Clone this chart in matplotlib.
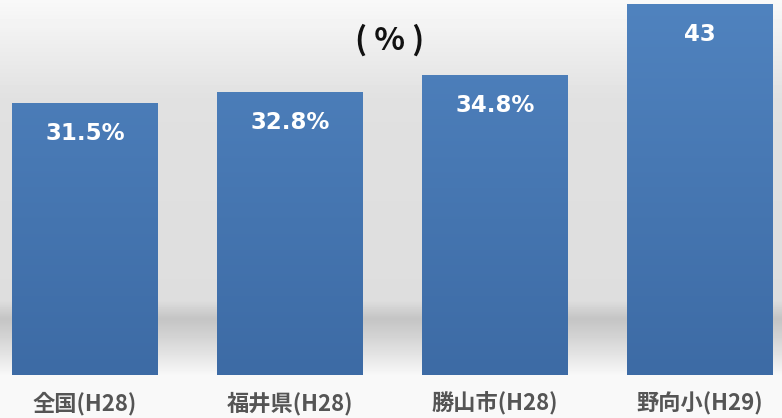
import numpy as np
import matplotlib
matplotlib.use("Agg")
import matplotlib.pyplot as plt
from matplotlib.colors import LinearSegmentedColormap

plt.rcParams['font.family'] = ['Noto Sans CJK JP', 'DejaVu Sans']

categories = ["全国(H28)", "福井県(H28)", "勝山市(H28)", "野向小(H29)"]
values = [31.5, 32.8, 34.8, 43]
value_labels = ["31.5%", "32.8%", "34.8%", "43"]
unit_label = "( % )"

W, H = 782, 418
fig = plt.figure(figsize=(W / 100, H / 100), dpi=100)

# background gradient (wall + floor shadow)
bg = fig.add_axes([0, 0, 1, 1])
bg.set_axis_off()
col = np.empty(H)
for y in range(H):
    if y < 100:
        c = 0.975 - (0.975 - 0.88) * (y / 100)
    elif y < 300:
        c = 0.88 - 0.01 * (y - 100) / 200
    elif y < 318:
        c = 0.87 - (0.87 - 0.77) * (y - 300) / 18
    elif y < 375:
        c = 0.77 + (0.975 - 0.77) * ((y - 318) / 57) ** 1.1
    else:
        c = 0.975
    col[y] = c
img = np.repeat(col[:, None], 2, axis=1)
bg.imshow(img, cmap='gray', vmin=0, vmax=1, aspect='auto', extent=[0, 1, 0, 1], origin='upper')
bg.set_xlim(0, 1)
bg.set_ylim(0, 1)

# main axes: bottom at y=375px, top at figure top
ax_bottom = (H - 375) / H
ax = fig.add_axes([0, ax_bottom, 1, 1 - ax_bottom])
ax.patch.set_alpha(0)
x = np.arange(len(categories))
bars = ax.bar(x, values, width=0.71, color='#4a7ab8', zorder=2)
ax.set_xlim(-0.415, 3.4)
ax.set_ylim(0, 43.5)
ax.set_axis_off()

grad = np.linspace(0, 1, 256)[:, None]
cmap = LinearSegmentedColormap.from_list('barg', ['#3d6ba5', '#5083bf'])
for b in bars:
    x0, w = b.get_x(), b.get_width()
    im = ax.imshow(grad, cmap=cmap, aspect='auto', extent=[x0, x0 + w, 0, 43.5],
                   origin='lower', zorder=3)
    im.set_clip_path(b)

for xi, v, lab in zip(x, values, value_labels):
    ax.annotate(lab, (xi, v), xytext=(0, -30), textcoords='offset pixels',
                ha='center', va='center', color='white', fontsize=16.5,
                fontweight='bold', family=['DejaVu Sans'], zorder=4)

for xi, cat in zip(x, categories):
    ax.annotate(cat, (xi, 0), xytext=(0, -29), textcoords='offset pixels',
                ha='center', va='center', color='#555555', fontsize=16,
                fontweight='bold', annotation_clip=False)

fig.text(390 / W, 1 - 40 / H, unit_label, ha='center', va='center', fontsize=23,
         fontweight='bold', color='#111111')

fig.savefig('out.png', dpi=100)
